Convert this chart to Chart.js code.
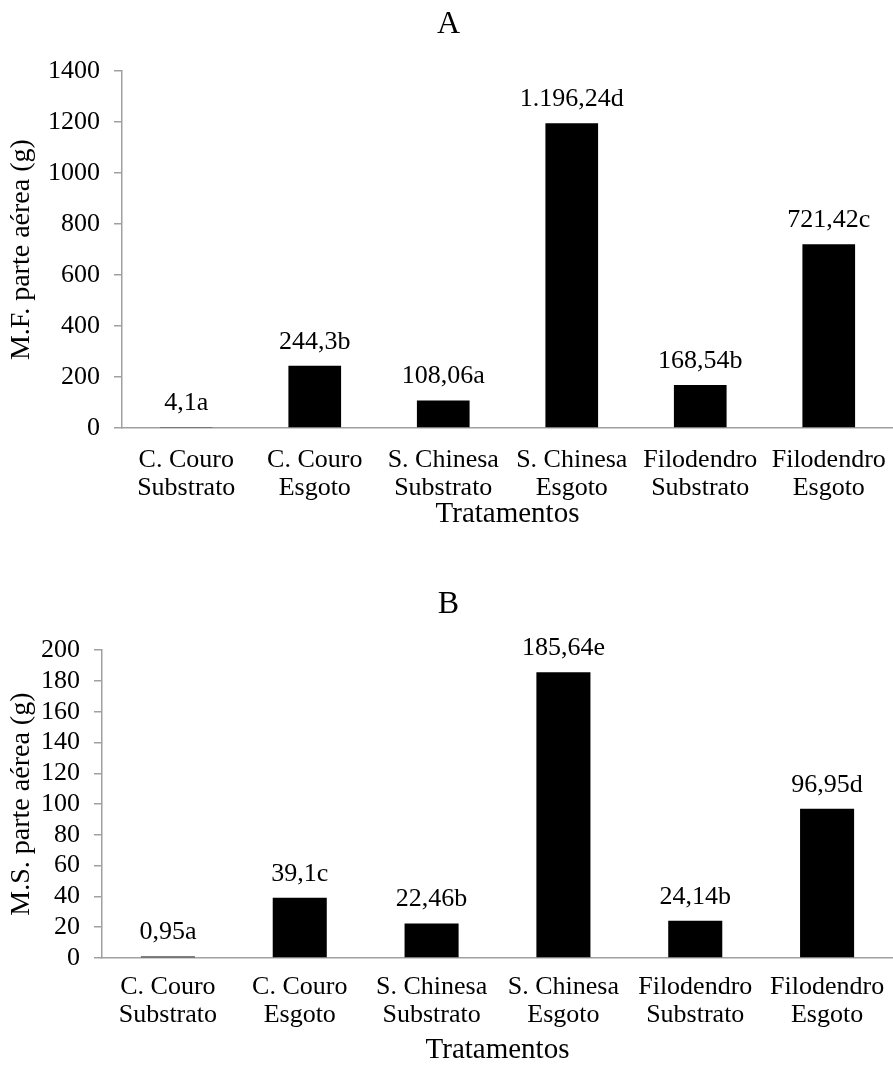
<!DOCTYPE html>
<html lang="pt-br">
<head>
    <meta charset="UTF-8">
    <title>M.F. e M.S. parte aérea</title>
    <script src="https://cdn.jsdelivr.net/npm/chart.js"></script>
    <style>
        body { margin: 0; background: #fff; }
        .painel { position: relative; width: 893px; }
        #painelA { height: 540px; }
        #painelB { height: 537px; }
    </style>
</head>
<body>

<div class="painel" id="painelA"><canvas id="graficoA"></canvas></div>
<div class="painel" id="painelB"><canvas id="graficoB"></canvas></div>

<script>
    const tratamentos = [
        ['C. Couro', 'Substrato'], ['C. Couro', 'Esgoto'],
        ['S. Chinesa', 'Substrato'], ['S. Chinesa', 'Esgoto'],
        ['Filodendro', 'Substrato'], ['Filodendro', 'Esgoto']
    ];
    const massaFresca = [4.1, 244.3, 108.06, 1196.24, 168.54, 721.42];
    const rotulosFresca = ['4,1a', '244,3b', '108,06a', '1.196,24d', '168,54b', '721,42c'];
    const massaSeca = [0.95, 39.1, 22.46, 185.64, 24.14, 96.95];
    const rotulosSeca = ['0,95a', '39,1c', '22,46b', '185,64e', '24,14b', '96,95d'];

    const cinza = '#a0a0a0';
    const fonte = "'Liberation Serif', 'Times New Roman', serif";
    Chart.defaults.font.family = fonte;
    Chart.defaults.font.size = 26;
    Chart.defaults.color = '#000';

    // escreve o valor em cima de cada barra
    const rotulosBarras = {
        id: 'rotulosBarras',
        afterDatasetsDraw(chart, args, opts) {
            const ctx = chart.ctx;
            const meta = chart.getDatasetMeta(0);
            ctx.save();
            ctx.font = '26px ' + fonte;
            ctx.fillStyle = '#000';
            ctx.textAlign = 'center';
            ctx.textBaseline = 'middle';
            meta.data.forEach((barra, i) => {
                ctx.fillText(opts.textos[i], barra.x, barra.y - 24);
            });
            ctx.restore();
        }
    };

    function criarGrafico(id, c) {
        return new Chart(document.getElementById(id), {
            type: 'bar',
            data: {
                labels: tratamentos,
                datasets: [{
                    data: c.valores,
                    backgroundColor: '#000',
                    barPercentage: 0.41,
                    categoryPercentage: 1
                }]
            },
            options: {
                responsive: true,
                maintainAspectRatio: false,
                animation: false,
                // o eixo x passa um pouco da borda direita no original
                layout: { padding: { left: 0, top: 0, bottom: 0, right: -4 } },
                plugins: {
                    legend: { display: false },
                    tooltip: { enabled: false },
                    title: {
                        display: true,
                        text: c.titulo,
                        color: '#000',
                        font: { size: 32, weight: 'normal', lineHeight: 1.1 },
                        padding: { top: c.tituloTopo, bottom: c.tituloBase }
                    },
                    rotulosBarras: { textos: c.textos }
                },
                scales: {
                    x: {
                        grid: { display: false, drawTicks: false },
                        border: { display: true, color: cinza, width: 1.5 },
                        ticks: {
                            padding: c.padX,
                            maxRotation: 0,
                            autoSkip: false,
                            font: { size: 26, lineHeight: 1.08 }
                        },
                        title: {
                            display: true,
                            text: 'Tratamentos',
                            font: { size: 29, lineHeight: 1.08 },
                            padding: { top: 0, bottom: c.tituloXBase }
                        },
                        afterFit(scale) {
                            scale.height = c.alturaX;
                            scale.paddingLeft = 0;
                            scale.paddingRight = 0;
                        }
                    },
                    y: {
                        min: 0,
                        max: c.max,
                        ticks: {
                            stepSize: c.passo,
                            autoSkip: false,
                            padding: 14,
                            font: { size: 26 },
                            callback: (v) => String(v)
                        },
                        grid: {
                            drawOnChartArea: false,
                            drawTicks: true,
                            tickLength: 8,
                            color: cinza,
                            lineWidth: 1.5
                        },
                        border: { display: true, color: cinza, width: 1.5 },
                        title: {
                            display: true,
                            text: c.tituloY,
                            font: { size: 28, lineHeight: 1.08 },
                            padding: { top: 7, bottom: 0 }
                        },
                        afterFit(scale) { scale.width = c.larguraY; }
                    }
                }
            },
            plugins: [rotulosBarras]
        });
    }

    criarGrafico('graficoA', {
        valores: massaFresca, textos: rotulosFresca, titulo: 'A',
        tituloY: 'M.F. parte aérea (g)', max: 1400, passo: 200,
        tituloTopo: 7, tituloBase: 29, larguraY: 122, alturaX: 112, padX: 18, tituloXBase: 10
    });

    criarGrafico('graficoB', {
        valores: massaSeca, textos: rotulosSeca, titulo: 'B',
        tituloY: 'M.S. parte aérea (g)', max: 200, passo: 20,
        tituloTopo: 47, tituloBase: 28, larguraY: 102, alturaX: 119, padX: 15, tituloXBase: 11
    });
</script>

</body>
</html>
